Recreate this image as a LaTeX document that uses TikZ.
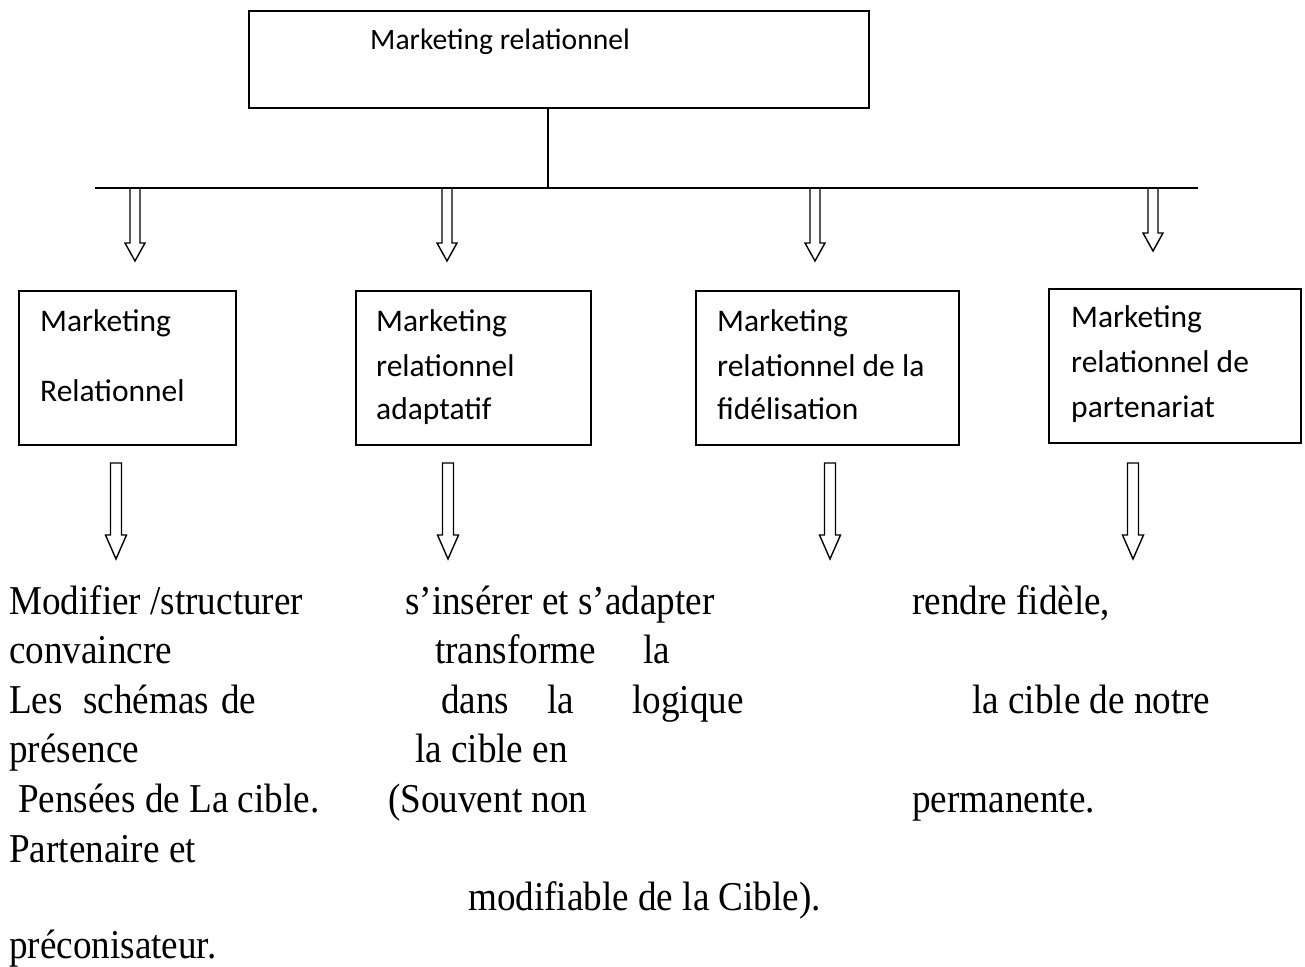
\documentclass[tikz,border=0pt]{standalone}
\usepackage{fontspec}
\setmainfont{Liberation Serif}
\newfontfamily\bodyfont[FakeStretch=0.906]{Liberation Serif}
\newfontfamily\boxfont{Carlito}

% hollow block arrow: x centre, shaft top, head start, tip
\newcommand\openarrow[4]{%
  \draw[arrowline] (#1-5,#2) -- (#1-5,#3) -- (#1-10,#3) -- (#1,#4)
    -- (#1+10,#3) -- (#1+5,#3) -- (#1+5,#2);}
\newcommand\closedarrow[4]{%
  \draw[arrowline] (#1-5.5,#2) -- (#1-5.5,#3) -- (#1-10.5,#3) -- (#1,#4)
    -- (#1+10.5,#3) -- (#1+5.5,#3) -- (#1+5.5,#2) -- cycle;}

\begin{document}
\begin{tikzpicture}[x=1pt,y=-1pt,
  frame/.style={draw, line width=1.6pt, anchor=north west, inner sep=0pt},
  boxtext/.style={anchor=base west, inner sep=0pt, font=\boxfont\fontsize{31.5}{38}\selectfont},
  toptext/.style={anchor=base west, inner sep=0pt, font=\boxfont\fontsize{29.6}{35}\selectfont},
  body/.style={anchor=base west, inner sep=0pt, font=\bodyfont\fontsize{41}{49}\selectfont},
  arrowline/.style={line width=1.4pt, line join=miter},
  wire/.style={line width=1.4pt}]
\fill[white] (0,0) rectangle (1305,966);
\useasboundingbox (0,0) rectangle (1305,966);

% root
\node[frame, minimum width=620pt, minimum height=97pt] (root) at (248,10) {};
\node[toptext] (roottxt) at (370,49) {Marketing relationnel};

% distribution bar
\coordinate (stem) at (548,188);
\coordinate (barL) at (95,188);
\coordinate (barR) at (1198,188);
\draw[wire] (root.south -| stem) -- (stem);
\draw[wire] (barL) -- (barR);

% arrows from the bar
\openarrow{135}{188}{243}{261}
\openarrow{447}{188}{243}{261}
\openarrow{815}{188}{243}{261}
\openarrow{1153}{188}{233}{251}

% four branches
\node[frame, minimum width=217pt, minimum height=154pt] (b1) at (18,290) {};
\node[frame, minimum width=235pt, minimum height=154pt] (b2) at (355,290) {};
\node[frame, minimum width=263pt, minimum height=154pt] (b3) at (695,290) {};
\node[frame, minimum width=252pt, minimum height=154pt] (b4) at (1048,288) {};

\node[boxtext] (b1a) at (40,331) {Marketing};
\node[boxtext] (b1b) at (40,401) {Relationnel};

\node[boxtext] (b2a) at (376,331) {Marketing};
\node[boxtext] (b2b) at (376,376) {relationnel};
\node[boxtext] (b2c) at (376,419) {adaptatif};

\node[boxtext] (b3a) at (717,331) {Marketing};
\node[boxtext] (b3b) at (717,376) {relationnel de la};
\node[boxtext] (b3c) at (717,419) {fidélisation};

\node[boxtext] (b4a) at (1071,327) {Marketing};
\node[boxtext] (b4b) at (1071,372) {relationnel de};
\node[boxtext] (b4c) at (1071,417) {partenariat};

% arrows below the boxes
\closedarrow{116}{463}{535}{559}
\closedarrow{448}{463}{535}{559}
\closedarrow{830}{463}{535}{559}
\closedarrow{1133}{463}{535}{559}

% descriptions
\node[body] (t1) at (9,614) {Modifier /structurer};
\node[body] (t2) at (9,663) {convaincre};
\node[body] (t3a) at (9,713) {Les};
\node[body] (t3b) at (83,713) {schémas};
\node[body] (t3c) at (221,713) {de};
\node[body] (t4) at (9,762) {présence};
\node[body] (t5) at (18,812) {Pensées de La cible.};
\node[body] (t6) at (9,862) {Partenaire et};
\node[body] (t8) at (9,958) {préconisateur.};

\node[body] (u1) at (405,614) {s’insérer et s’adapter};
\node[body] (u2a) at (435,663) {transforme};
\node[body] (u2b) at (643,663) {la};
\node[body] (u3a) at (441,713) {dans};
\node[body] (u3b) at (547,713) {la};
\node[body] (u3c) at (632,713) {logique};
\node[body] (u4) at (415,762) {la cible en};
\node[body] (u5) at (388,812) {(Souvent non};
\node[body] (u7) at (468,910) {modifiable de la Cible).};

\node[body] (v1) at (912,614) {rendre fidèle,};
\node[body] (v3) at (972,713) {la cible de notre};
\node[body] (v5) at (912,812) {permanente.};
\end{tikzpicture}
\end{document}
